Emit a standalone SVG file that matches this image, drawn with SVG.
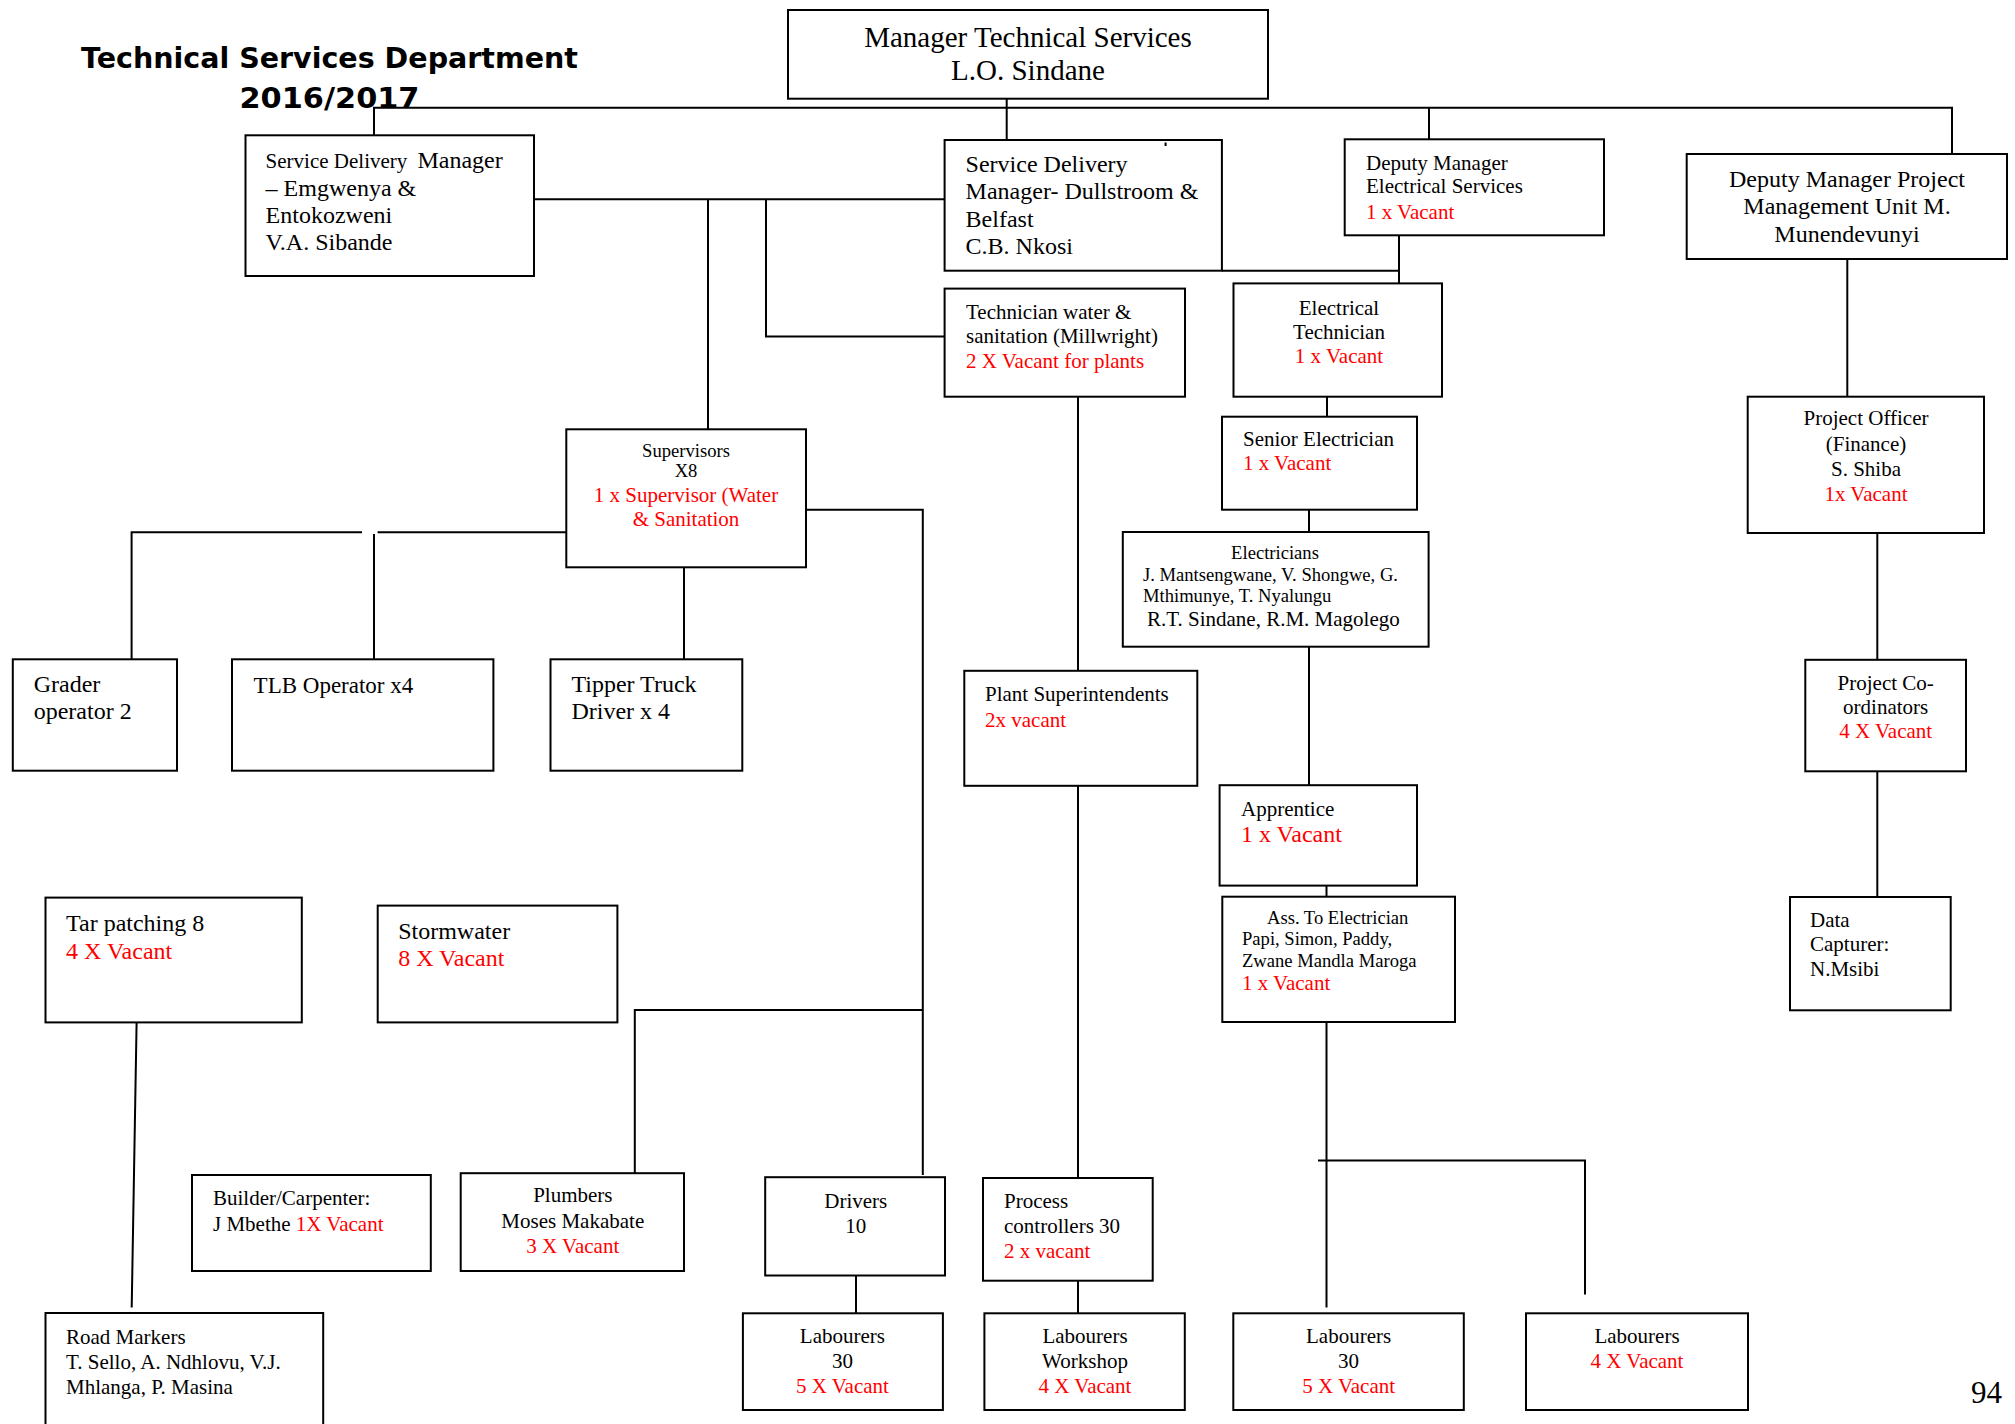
<svg xmlns="http://www.w3.org/2000/svg" width="2015" height="1424" viewBox="0 0 2015 1424">
  <style>
    .box { fill: #fff; stroke: #000; stroke-width: 2; }
    .ln { fill: none; stroke: #000; stroke-width: 2; }
    text { font-family: "Liberation Serif", "Times New Roman", serif; fill: #000; }
    .title { font-family: "DejaVu Sans", "Liberation Sans", sans-serif; font-weight: bold; font-size: 29px; }
    .r { fill: #ff0000; }
    .f18 { font-size: 18.6px; }
    .f21 { font-size: 21px; }
    .f23 { font-size: 23px; }
    .f24 { font-size: 24px; }
    .f29 { font-size: 29px; }
    .c { text-anchor: middle; }
  </style>
  <rect width="2015" height="1424" fill="#fff"/>

  <!-- heading -->
  <g id="heading">
    <text class="title c" x="329.5" y="68" textLength="497" lengthAdjust="spacingAndGlyphs">Technical Services Department</text>
    <text class="title c" x="329.5" y="108" textLength="180" lengthAdjust="spacingAndGlyphs">2016/2017</text>
  </g>

  <!-- reporting lines -->
  <g id="connectors">
    <path class="ln" d="M374,135.3 V107.7 H1952 V154"/>
    <path class="ln" d="M1006.7,98.7 V140"/>
    <path class="ln" d="M1429,108 V139.3"/>
    <path class="ln" d="M534,199.3 H944.6"/>
    <path class="ln" d="M708,199.3 V442.7"/>
    <path class="ln" d="M766,199.3 V336.4 H944.6"/>
    <path class="ln" d="M1222,270.7 H1399"/>
    <path class="ln" d="M1399,235.3 V283.4"/>
    <path class="ln" d="M1327,396.7 V416.7"/>
    <path class="ln" d="M1309,509.7 V532"/>
    <path class="ln" d="M1309,646.7 V785.2"/>
    <path class="ln" d="M1326.5,885.6 V896.7"/>
    <path class="ln" d="M1326.5,1022 V1307.4"/>
    <path class="ln" d="M1318,1160.5 H1585 V1294.6"/>
    <path class="ln" d="M1078,396.7 V670.8"/>
    <path class="ln" d="M1078,785.8 V1178"/>
    <path class="ln" d="M1078,1280.7 V1313.3"/>
    <path class="ln" d="M806,509.7 H922.8 V1175"/>
    <path class="ln" d="M922.8,1010 H634.8 V1173.2"/>
    <path class="ln" d="M566.3,532.3 H377.6"/>
    <path class="ln" d="M362,532.3 H131.6 V659.3"/>
    <path class="ln" d="M374,534 V659.3"/>
    <path class="ln" d="M684,567.3 V659.3"/>
    <path class="ln" d="M856,1275.5 V1313.3"/>
    <path class="ln" d="M136.6,1022.4 L131.7,1307.5"/>
    <path class="ln" d="M1847.3,259 V396.7"/>
    <path class="ln" d="M1877.3,533 V659.8"/>
    <path class="ln" d="M1877.3,771.3 V897"/>
  </g>

  <g id="n-manager">
    <rect class="box" x="788" y="10" width="480" height="88.7"/>
    <text class="f29 c" x="1028" y="46.7">Manager Technical Services</text>
    <text class="f29 c" x="1028" y="80">L.O. Sindane</text>
  </g>

  <g id="n-sdm-emgwenya">
    <rect class="box" x="245.5" y="135.3" width="288.5" height="140.7"/>
    <text class="f21" x="265.6" y="168">Service Delivery<tspan class="f24" x="417.4">Manager</tspan></text>
    <text class="f24" x="265.6" y="196">– Emgwenya &amp;</text>
    <text class="f24" x="265.6" y="223">Entokozweni</text>
    <text class="f24" x="265.6" y="250">V.A. Sibande</text>
  </g>

  <g id="n-sdm-dullstroom">
    <rect class="box" x="944.6" y="140" width="277.3" height="130.7"/>
    <path class="ln" d="M1165.6,142.5 V146" stroke-width="1.5"/>
    <text class="f24" x="965.6" y="171.7">Service Delivery</text>
    <text class="f24" x="965.6" y="199.3">Manager- Dullstroom &amp;</text>
    <text class="f24" x="965.6" y="227.3">Belfast</text>
    <text class="f24" x="965.6" y="254">C.B. Nkosi</text>
  </g>

  <g id="n-dep-electrical">
    <rect class="box" x="1344.7" y="139.3" width="259.3" height="96"/>
    <text class="f21" x="1366" y="170">Deputy Manager</text>
    <text class="f21" x="1366" y="193.3">Electrical Services</text>
    <text class="f21 r" x="1366" y="218.5">1 x Vacant</text>
  </g>

  <g id="n-dep-pmu">
    <rect class="box" x="1686.7" y="154" width="320.3" height="105"/>
    <text class="f24 c" x="1847" y="186.7">Deputy Manager Project</text>
    <text class="f24 c" x="1847" y="214.3">Management Unit M.</text>
    <text class="f24 c" x="1847" y="241.7">Munendevunyi</text>
  </g>

  <g id="n-tech-water">
    <rect class="box" x="944.6" y="288.6" width="240.4" height="108.1"/>
    <text class="f21" x="966" y="318.5">Technician water &amp;</text>
    <text class="f21" x="966" y="342.6">sanitation (Millwright)</text>
    <text class="f21 r" x="966" y="367.8">2 X Vacant for plants</text>
  </g>

  <g id="n-elec-tech">
    <rect class="box" x="1233.5" y="283.4" width="208.5" height="113.3"/>
    <text class="f21 c" x="1339" y="315.1">Electrical</text>
    <text class="f21 c" x="1339" y="338.5">Technician</text>
    <text class="f21 c r" x="1339" y="363.3">1 x Vacant</text>
  </g>

  <g id="n-senior-electrician">
    <rect class="box" x="1222" y="416.7" width="195" height="93"/>
    <text class="f21" x="1243" y="446">Senior Electrician</text>
    <text class="f21 r" x="1243" y="470">1 x Vacant</text>
  </g>

  <g id="n-supervisors">
    <rect class="box" x="566.3" y="429.3" width="239.7" height="138"/>
    <text class="f18 c" x="686" y="456.7">Supervisors</text>
    <text class="f18 c" x="686" y="477.3">X8</text>
    <text class="f21 c r" x="686" y="501.7">1 x Supervisor (Water</text>
    <text class="f21 c r" x="686" y="526">&amp; Sanitation</text>
  </g>

  <g id="n-electricians">
    <rect class="box" x="1122.8" y="532" width="305.8" height="114.7"/>
    <text class="f18 c" x="1275" y="558.9">Electricians</text>
    <text class="f18" x="1143" y="581">J. Mantsengwane, V. Shongwe, G.</text>
    <text class="f18" x="1143" y="601.6">Mthimunye, T. Nyalungu</text>
    <text class="f21" x="1147" y="626">R.T. Sindane, R.M. Magolego</text>
  </g>

  <g id="n-project-officer">
    <rect class="box" x="1747.7" y="396.7" width="236.3" height="136.3"/>
    <text class="f21 c" x="1866" y="425.4">Project Officer</text>
    <text class="f21 c" x="1866" y="450.7">(Finance)</text>
    <text class="f21 c" x="1866" y="476">S. Shiba</text>
    <text class="f21 c r" x="1866" y="501">1x Vacant</text>
  </g>

  <g id="n-grader">
    <rect class="box" x="12.8" y="659.3" width="164.2" height="111.4"/>
    <text class="f24" x="33.7" y="691.7">Grader</text>
    <text class="f24" x="33.7" y="719.3">operator 2</text>
  </g>

  <g id="n-tlb">
    <rect class="box" x="232" y="659.3" width="261.4" height="111.4"/>
    <text class="f23" x="253.6" y="692.7">TLB Operator x4</text>
  </g>

  <g id="n-tipper">
    <rect class="box" x="550.5" y="659.3" width="191.8" height="111.4"/>
    <text class="f24" x="571.4" y="691.7">Tipper Truck</text>
    <text class="f24" x="571.4" y="719.3">Driver x 4</text>
  </g>

  <g id="n-plant-superintendents">
    <rect class="box" x="964.3" y="670.8" width="233" height="115"/>
    <text class="f21" x="985" y="700.8">Plant Superintendents</text>
    <text class="f21 r" x="985" y="726.6">2x vacant</text>
  </g>

  <g id="n-coordinators">
    <rect class="box" x="1805.3" y="659.8" width="160.7" height="111.5"/>
    <text class="f21 c" x="1885.7" y="690">Project Co-</text>
    <text class="f21 c" x="1885.7" y="713.9">ordinators</text>
    <text class="f21 c r" x="1885.7" y="737.8">4 X Vacant</text>
  </g>

  <g id="n-apprentice">
    <rect class="box" x="1219.6" y="785.2" width="197.4" height="100.4"/>
    <text class="f21" x="1241" y="816">Apprentice</text>
    <text class="f24 r" x="1241" y="842">1 x Vacant</text>
  </g>

  <g id="n-assistant">
    <rect class="box" x="1222.3" y="896.7" width="232.7" height="125.3"/>
    <text class="f18" x="1267" y="924.2">Ass. To Electrician</text>
    <text class="f18" x="1242" y="945.2">Papi, Simon, Paddy,</text>
    <text class="f18" x="1242" y="967.1">Zwane Mandla Maroga</text>
    <text class="f21 r" x="1242" y="990.2">1 x Vacant</text>
  </g>

  <g id="n-data-capturer">
    <rect class="box" x="1790" y="897" width="160.7" height="113.3"/>
    <text class="f21" x="1810" y="926.5">Data</text>
    <text class="f21" x="1810" y="951.2">Capturer:</text>
    <text class="f21" x="1810" y="976.3">N.Msibi</text>
  </g>

  <g id="n-tar-patching">
    <rect class="box" x="45.5" y="897.6" width="256.3" height="124.8"/>
    <text class="f24" x="66" y="931.3">Tar patching 8</text>
    <text class="f24 r" x="66" y="959.1">4 X Vacant</text>
  </g>

  <g id="n-stormwater">
    <rect class="box" x="377.7" y="905.6" width="239.7" height="116.8"/>
    <text class="f24" x="398.2" y="938.6">Stormwater</text>
    <text class="f24 r" x="398.2" y="966.4">8 X Vacant</text>
  </g>

  <g id="n-builder">
    <rect class="box" x="192" y="1175" width="238.8" height="96"/>
    <text class="f21" x="213" y="1205">Builder/Carpenter:</text>
    <text class="f21" x="213" y="1230.7">J Mbethe <tspan class="r">1X Vacant</tspan></text>
  </g>

  <g id="n-plumbers">
    <rect class="box" x="460.7" y="1173.2" width="223.3" height="97.8"/>
    <text class="f21 c" x="572.8" y="1202">Plumbers</text>
    <text class="f21 c" x="572.8" y="1227.7">Moses Makabate</text>
    <text class="f21 c r" x="572.8" y="1252.6">3 X Vacant</text>
  </g>

  <g id="n-drivers">
    <rect class="box" x="765.2" y="1177.2" width="179.8" height="98.3"/>
    <text class="f21 c" x="855.8" y="1207.9">Drivers</text>
    <text class="f21 c" x="855.8" y="1232.5">10</text>
  </g>

  <g id="n-process-controllers">
    <rect class="box" x="983" y="1178" width="169.7" height="102.7"/>
    <text class="f21" x="1004" y="1207.9">Process</text>
    <text class="f21" x="1004" y="1232.5">controllers 30</text>
    <text class="f21 r" x="1004" y="1257.6">2 x vacant</text>
  </g>

  <g id="n-road-markers">
    <path class="box" d="M45.5,1440 V1313 H323.2 V1440"/>
    <text class="f21" x="66" y="1344">Road Markers</text>
    <text class="f21" x="66" y="1369">T. Sello, A. Ndhlovu, V.J.</text>
    <text class="f21" x="66" y="1394.3">Mhlanga, P. Masina</text>
  </g>

  <g id="n-labourers-drivers">
    <rect class="box" x="742.9" y="1313.3" width="200" height="96.7"/>
    <text class="f21 c" x="842.4" y="1343.2">Labourers</text>
    <text class="f21 c" x="842.4" y="1367.8">30</text>
    <text class="f21 c r" x="842.4" y="1393">5 X Vacant</text>
  </g>

  <g id="n-labourers-workshop">
    <rect class="box" x="984.4" y="1313.3" width="200.4" height="96.7"/>
    <text class="f21 c" x="1085" y="1343.2">Labourers</text>
    <text class="f21 c" x="1085" y="1367.8">Workshop</text>
    <text class="f21 c r" x="1085" y="1393">4 X Vacant</text>
  </g>

  <g id="n-labourers-electrical">
    <rect class="box" x="1233.3" y="1313.3" width="230.5" height="96.7"/>
    <text class="f21 c" x="1348.6" y="1343.2">Labourers</text>
    <text class="f21 c" x="1348.6" y="1367.8">30</text>
    <text class="f21 c r" x="1348.6" y="1393">5 X Vacant</text>
  </g>

  <g id="n-labourers-vacant">
    <rect class="box" x="1526" y="1313.3" width="222" height="96.7"/>
    <text class="f21 c" x="1637" y="1343.2">Labourers</text>
    <text class="f21 c r" x="1637" y="1367.8">4 X Vacant</text>
  </g>

  <g id="page-number">
    <text x="1971" y="1403" font-size="31">94</text>
  </g>
</svg>
